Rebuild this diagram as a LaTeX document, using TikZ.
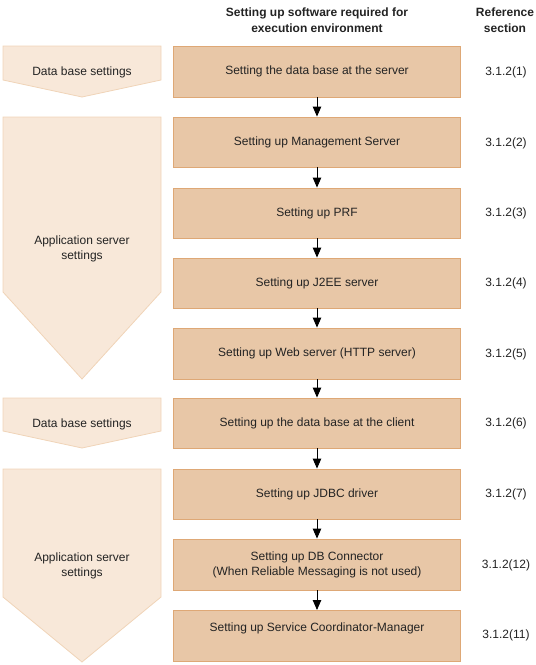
\documentclass[tikz,border=0pt]{standalone}
\usepackage{fontspec}
\setmainfont{Liberation Sans}
\usetikzlibrary{arrows.meta}
\definecolor{boxfill}{RGB}{232,199,167}
\definecolor{boxline}{RGB}{222,168,118}
\definecolor{pentfill}{RGB}{248,232,217}
\definecolor{pentline}{RGB}{240,212,184}
\definecolor{txt}{RGB}{35,35,35}
\begin{document}
\begin{tikzpicture}[x=1pt,y=-1pt,
  font=\fontsize{12}{15}\selectfont,
  stepbox/.style={draw=boxline,fill=boxfill,line width=0.9pt,minimum width=287pt,inner sep=0pt,text=txt,align=center},
  pent/.style={draw=pentline,fill=pentfill,line width=0.8pt},
  lbl/.style={text=txt,align=center,inner sep=0pt},
  flow/.style={-{Triangle[length=10pt,width=8.5pt]},line width=0.9pt}]
\useasboundingbox (0,0) rectangle (536,665);
% header
\node[lbl,font=\fontsize{12}{16}\selectfont\bfseries] (h1) at (317,20.5) {Setting up software required for\\execution environment};
\node[lbl,font=\fontsize{12}{16}\selectfont\bfseries] (h2) at (505,20.5) {Reference\\section};
% pentagons
\path[pent] (3,46) -- (161,46) -- (161,80) -- (82,97) -- (3,80) -- cycle;
\node[lbl] (p1) at (82,72) {Data base settings};
\path[pent] (3,117) -- (161,117) -- (161,292) -- (82,379) -- (3,292) -- cycle;
\node[lbl] (p2) at (82,249) {Application server\\settings};
\path[pent] (3,398) -- (161,398) -- (161,431) -- (82,448) -- (3,431) -- cycle;
\node[lbl] (p3) at (82,424) {Data base settings};
\path[pent] (3,469) -- (161,469) -- (161,597) -- (82,662) -- (3,597) -- cycle;
\node[lbl] (p4) at (82,566) {Application server\\settings};
% boxes
\node[stepbox,minimum height=51pt] (b1) at (317,71.5) {Setting the data base at the server};
\node[stepbox,minimum height=50pt] (b2) at (317,142) {Setting up Management Server};
\node[stepbox,minimum height=50pt] (b3) at (317,213) {Setting up PRF};
\node[stepbox,minimum height=50pt] (b4) at (317,283) {Setting up J2EE server};
\node[stepbox,minimum height=51pt] (b5) at (317,353.5) {Setting up Web server (HTTP server)};
\node[stepbox,minimum height=50pt] (b6) at (317,423) {Setting up the data base at the client};
\node[stepbox,minimum height=50pt] (b7) at (317,494) {Setting up JDBC driver};
\node[stepbox,minimum height=51pt] (b8) at (317,564.5) {Setting up DB Connector\\(When Reliable Messaging is not used)};
\node[stepbox,minimum height=51pt,text height=0pt,anchor=north] (b9) at (317,610) {};
\node[lbl] (b9t) at (317,628.5) {Setting up Service Coordinator-Manager};
% arrows
\draw[flow] (b1) -- (b2);
\draw[flow] (b2) -- (b3);
\draw[flow] (b3) -- (b4);
\draw[flow] (b4) -- (b5);
\draw[flow] (b5) -- (b6);
\draw[flow] (b6) -- (b7);
\draw[flow] (b7) -- (b8);
\draw[flow] (b8) -- (b9);
% references
\node[lbl] (r1) at (506,72) {3.1.2(1)};
\node[lbl] (r2) at (506,143) {3.1.2(2)};
\node[lbl] (r3) at (506,213.5) {3.1.2(3)};
\node[lbl] (r4) at (506,283.5) {3.1.2(4)};
\node[lbl] (r5) at (506,354) {3.1.2(5)};
\node[lbl] (r6) at (506,423.5) {3.1.2(6)};
\node[lbl] (r7) at (506,494.5) {3.1.2(7)};
\node[lbl] (r8) at (506,565.5) {3.1.2(12)};
\node[lbl] (r9) at (506,635.5) {3.1.2(11)};
\end{tikzpicture}
\end{document}
